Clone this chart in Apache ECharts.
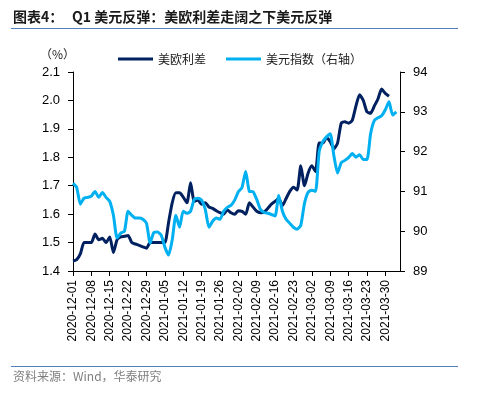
<!DOCTYPE html>
<html>
<head>
<meta charset="utf-8">
<script src="https://cdn.jsdelivr.net/npm/echarts@6/dist/echarts.min.js"></script>
<style>
html,body{margin:0;padding:0;background:#fff;}
#c{width:489px;height:395px;}
</style>
</head>
<body>
<div id="c"></div>
<script>
var categories = [
"2020-12-01","2020-12-02","2020-12-03","2020-12-04","2020-12-07","2020-12-08","2020-12-09","2020-12-10","2020-12-11",
"2020-12-14","2020-12-15","2020-12-16","2020-12-17","2020-12-18","2020-12-21","2020-12-22","2020-12-23","2020-12-24","2020-12-25",
"2020-12-28","2020-12-29","2020-12-30","2020-12-31","2021-01-01","2021-01-04","2021-01-05","2021-01-06","2021-01-07","2021-01-08",
"2021-01-11","2021-01-12","2021-01-13","2021-01-14","2021-01-15","2021-01-18","2021-01-19","2021-01-20","2021-01-21","2021-01-22",
"2021-01-25","2021-01-26","2021-01-27","2021-01-28","2021-01-29","2021-02-01","2021-02-02","2021-02-03","2021-02-04","2021-02-05",
"2021-02-08","2021-02-09","2021-02-10","2021-02-11","2021-02-12","2021-02-15","2021-02-16","2021-02-17","2021-02-18","2021-02-19",
"2021-02-22","2021-02-23","2021-02-24","2021-02-25","2021-02-26","2021-03-01","2021-03-02","2021-03-03","2021-03-04","2021-03-05",
"2021-03-08","2021-03-09","2021-03-10","2021-03-11","2021-03-12","2021-03-15","2021-03-16","2021-03-17","2021-03-18","2021-03-19",
"2021-03-22","2021-03-23","2021-03-24","2021-03-25","2021-03-26","2021-03-29","2021-03-30","2021-03-31","2021-04-01","2021-04-02",
"2021-04-05"
];

var spreadName = "美欧利差";
var spread = [
1.435,1.44,1.46,1.50,1.50,1.50,1.53,1.51,1.515,1.50,
1.52,1.465,1.51,1.52,1.522,1.525,1.50,1.495,1.49,1.485,
1.48,1.50,1.50,1.50,1.50,1.50,1.57,1.64,1.675,1.675,
1.66,1.64,1.71,1.645,1.65,1.635,1.64,1.625,1.62,1.612,
1.605,1.60,1.615,1.605,1.60,1.612,1.61,1.60,1.64,1.625,
1.61,1.605,1.607,1.62,1.635,1.645,1.655,1.63,1.655,1.68,
1.695,1.685,1.77,1.70,1.745,1.77,1.75,1.85,1.85,1.87,
1.855,1.83,1.85,1.92,1.925,1.92,1.93,1.98,2.02,2.0,
1.96,1.955,1.98,2.005,2.04,2.025,2.015,null,null,null
];

var dxyName = "美元指数（右轴）";
var dxy = [
91.2,91.1,90.68,90.83,90.85,90.88,91.0,90.85,90.97,90.85,
90.75,90.4,89.83,89.95,90.0,90.5,90.4,90.33,90.33,90.3,
90.2,89.7,89.97,89.98,89.9,89.6,89.4,89.78,90.4,90.1,
90.5,90.45,90.5,90.8,90.83,90.78,90.55,90.1,90.25,90.33,
90.3,90.5,90.6,90.65,90.78,90.99,91.1,91.5,91.0,90.99,
90.8,90.55,90.47,90.45,90.42,90.38,90.9,90.5,90.3,90.2,
90.1,90.05,90.15,90.7,90.98,91.03,91.0,92.0,92.25,92.37,
92.45,91.9,91.46,91.72,91.78,91.85,91.95,91.86,91.92,91.8,
91.8,92.45,92.78,92.85,92.9,93.05,93.25,92.92,93.0,null
];

var leftTicks = {min:1.4, max:2.1, interval:0.1};
var rightTicks = {min:89, max:94, interval:1};

var chart = echarts.init(document.getElementById('c'), null, {renderer:'canvas'});
var numFont = 'Liberation Sans, Arial, sans-serif';
var cjkFont = '"Noto Sans CJK SC", sans-serif';

chart.setOption({
  animation:false,
  backgroundColor:'#fff',
  grid:{left:73, right:89, top:72, bottom:124},
  graphic:[
    {type:'text', left:13, top:10, style:{text:'图表4：', font:'bold 14px "Noto Sans CJK SC"', fill:'#1a1a1a'}},
    {type:'text', left:72, top:10, style:{text:'Q1 美元反弹：美欧利差走阔之下美元反弹', font:'bold 14px "Noto Sans CJK SC"', fill:'#1a1a1a'}},
    {type:'line', shape:{x1:11,y1:28.5,x2:458,y2:28.5}, style:{stroke:'#4f81bd', lineWidth:1}},
    {type:'line', shape:{x1:11,y1:366.5,x2:458,y2:366.5}, style:{stroke:'#4f81bd', lineWidth:1}},
    {type:'text', left:13, top:370, style:{text:'资料来源：Wind，华泰研究', font:'12px "Noto Sans CJK SC"', fill:'#7f7f7f'}},
    {type:'text', left:40, top:48, style:{text:'（%）', font:'12px "Noto Sans CJK SC"', fill:'#1a1a1a'}}
  ],
  legend:{
    left:113, top:48, icon:'rect', itemWidth:35, itemHeight:3, itemGap:20,
    textStyle:{fontSize:12, fontFamily:cjkFont, color:'#1a1a1a', padding:[0,0,0,0]},
    data:[spreadName, dxyName]
  },
  xAxis:{
    type:'category', data:categories, boundaryGap:false,
    axisLine:{lineStyle:{color:'#000', width:1}},
    axisTick:{show:true, interval:4, length:5, lineStyle:{color:'#000'}},
    axisLabel:{interval:4, rotate:90, fontSize:12, fontFamily:numFont, color:'#000', margin:9},
    splitLine:{show:false}
  },
  yAxis:[
    {type:'value', min:leftTicks.min, max:leftTicks.max, interval:leftTicks.interval,
     axisLine:{show:true, lineStyle:{color:'#000'}},
     axisTick:{show:true, length:5, lineStyle:{color:'#000'}},
     axisLabel:{fontSize:13, fontFamily:numFont, color:'#000', margin:13, formatter:function(v){return v.toFixed(1);}},
     splitLine:{show:false}},
    {type:'value', min:rightTicks.min, max:rightTicks.max, interval:rightTicks.interval, position:'right',
     axisLine:{show:true, lineStyle:{color:'#000'}},
     axisTick:{show:true, length:5, lineStyle:{color:'#000'}},
     axisLabel:{fontSize:13, fontFamily:numFont, color:'#000', margin:13},
     splitLine:{show:false}}
  ],
  series:[
    {name:spreadName, type:'line', yAxisIndex:0, data:spread, showSymbol:false, smooth:0.2,
     lineStyle:{color:'#002060', width:3}, itemStyle:{color:'#002060'}},
    {name:dxyName, type:'line', yAxisIndex:1, data:dxy, showSymbol:false, smooth:0.2,
     lineStyle:{color:'#00B0F0', width:3}, itemStyle:{color:'#00B0F0'}}
  ]
});
</script>
</body>
</html>
